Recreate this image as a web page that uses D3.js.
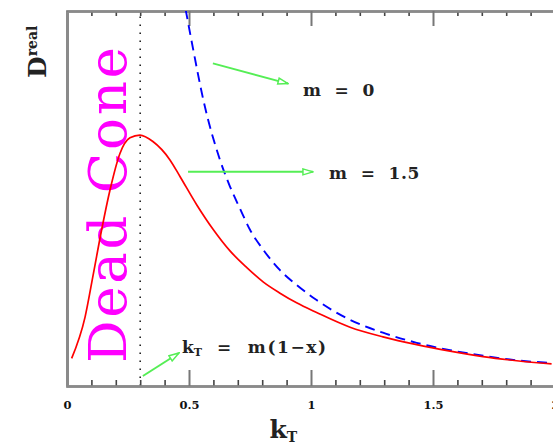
<!DOCTYPE html>
<html><head><meta charset="utf-8">
<script src="https://cdn.jsdelivr.net/npm/d3@7"></script>
<style>html,body{margin:0;padding:0;background:#fff;overflow:hidden}</style>
</head><body>
<svg id="c" width="553" height="445"></svg>
<script>
// Data
const kRed = [0.019,0.074,0.108,0.142,0.176,0.217,0.258,0.299,0.352,0.422,0.463,0.532,0.600,0.668,0.736,0.805,0.873,0.941,1.023,1.16,1.295,1.433,1.57,1.705,1.843,1.986];
const dRed = [0.30,0.75,1.22,1.70,2.13,2.53,2.70,2.73,2.66,2.46,2.28,1.97,1.70,1.47,1.29,1.13,1.01,0.905,0.80,0.64,0.535,0.45,0.38,0.32,0.275,0.24];
const kBlue = [0.486,0.518,0.559,0.627,0.668,0.709,0.75,0.805,0.873,0.941,1.023,1.16,1.295,1.433,1.57,1.705,1.843,1.986];
const dBlue = [4.10,3.65,3.11,2.46,2.17,1.93,1.70,1.48,1.26,1.10,0.935,0.72,0.58,0.47,0.39,0.33,0.28,0.25];
const majorTicks = [0,0.5,1,1.5,2];
const majorLabels = ["0","0.5","1","1.5","2"];
const minorTicks = d3.range(0,21).map(i=>i/10).filter(v=>Math.abs(v*2-Math.round(v*2))>1e-6);
const deadConeK = 0.3;

const svg = d3.select("#c");
const x = d3.scaleLinear().domain([0,2]).range([67,555]);
const y = d3.scaleLinear().domain([0,4.08]).range([386,11]);
const serif = "'DejaVu Serif', serif";

svg.append("defs").append("clipPath").attr("id","clip")
  .append("rect").attr("x",67).attr("y",11).attr("width",500).attr("height",375);

// Dead Cone text
svg.append("text")
  .attr("transform",`translate(126,${y(0)-23}) rotate(-90)`)
  .attr("font-family",serif).attr("font-size",53).attr("fill","#ff00ff")
  .attr("textLength",316).attr("lengthAdjust","spacing")
  .text("Dead Cone");

// dotted line
svg.append("line").attr("x1",x(deadConeK)).attr("x2",x(deadConeK))
  .attr("y1",y(4.02)).attr("y2",y(0))
  .attr("stroke","#222").attr("stroke-width",1.6).attr("stroke-dasharray","1.6,6.4");

// axes
const gMinB = svg.append("g").attr("transform",`translate(0,${y(0)})`)
  .call(d3.axisBottom(x).tickValues(minorTicks).tickSize(-6).tickFormat(""));
const gMajB = svg.append("g").attr("transform",`translate(0,${y(0)})`)
  .call(d3.axisBottom(x).tickValues(majorTicks).tickSize(-16).tickPadding(13).tickFormat((d,i)=>majorLabels[i]));
const gMinT = svg.append("g").attr("transform",`translate(0,${y(4.08)})`)
  .call(d3.axisTop(x).tickValues(minorTicks).tickSize(-5).tickFormat(""));
const gMajT = svg.append("g").attr("transform",`translate(0,${y(4.08)})`)
  .call(d3.axisTop(x).tickValues(majorTicks).tickSize(-15).tickFormat(""));
[gMinB,gMajB,gMinT,gMajT].forEach(g=>{
  g.select(".domain").attr("stroke","#8a8a8a").attr("stroke-width",2.4);
  g.selectAll(".tick line").attr("stroke","#444").attr("stroke-width",1.6);
});
gMajB.selectAll(".tick line").attr("stroke","#777").attr("stroke-width",2);
gMajT.selectAll(".tick line").attr("stroke","#777").attr("stroke-width",2);
gMajB.selectAll(".tick text").attr("font-family",serif).attr("font-weight","bold")
  .attr("font-size",11.5).attr("fill","#111").attr("dy","0.9em");
const gL = svg.append("g").attr("transform",`translate(${x(0)},0)`)
  .call(d3.axisLeft(y).tickValues([]).tickSize(0));
gL.select(".domain").attr("stroke","#8a8a8a").attr("stroke-width",3);

// curves
const line = d3.line().x(d=>x(d[0])).y(d=>y(d[1])).curve(d3.curveMonotoneX);
const plot = svg.append("g").attr("clip-path","url(#clip)");
plot.append("path").datum(kBlue.map((k,i)=>[k,dBlue[i]]))
  .attr("d",line).attr("fill","none").attr("stroke","#0000ff").attr("stroke-width",1.9)
  .attr("stroke-dasharray","10,6");
plot.append("path").datum(kRed.map((k,i)=>[k,dRed[i]]))
  .attr("d",line).attr("fill","none").attr("stroke","#ff0000").attr("stroke-width",1.7);

// arrows
const green = "#55ee55";
svg.append("defs").append("marker").attr("id","ah").attr("viewBox","0 0 12 8")
  .attr("refX",11).attr("refY",4).attr("markerWidth",12).attr("markerHeight",8)
  .attr("markerUnits","userSpaceOnUse").attr("orient","auto")
  .append("path").attr("d","M1,1 L11,4 L1,7 Z").attr("fill","#fff").attr("stroke",green).attr("stroke-width",1.5);
const arrows = [
  {k0:0.598,d0:3.51,k1:0.906,d1:3.29},
  {k0:0.496,d0:2.33,k1:1.008,d1:2.33},
  {k0:0.311,d0:0.109,k1:0.459,d1:0.359}
];
svg.selectAll("line.arrow").data(arrows).join("line").attr("class","arrow")
  .attr("x1",d=>x(d.k0)).attr("y1",d=>y(d.d0)).attr("x2",d=>x(d.k1)).attr("y2",d=>y(d.d1))
  .attr("stroke",green).attr("stroke-width",2).attr("marker-end","url(#ah)");

// labels
const lab = (k,d)=>svg.append("text").attr("x",x(k)).attr("y",y(d))
  .attr("font-family",serif).attr("font-weight","bold").attr("font-size",17)
  .attr("fill","#222").style("white-space","pre");
lab(0.967,3.16).attr("letter-spacing",0.6).text("m  =  0");
lab(1.074,2.25).attr("letter-spacing",0.6).text("m  =  1.5");
const t3 = lab(0.471,0.36);
t3.append("tspan").text("k");
t3.append("tspan").attr("font-size",11).attr("dy",3).text("T");
t3.append("tspan").attr("dy",-3).attr("letter-spacing",1.6).text("  =  m(1\u2212x)");

// axis titles
const xt = svg.append("text").attr("x",x(0.83)).attr("y",438)
  .attr("font-family",serif).attr("font-weight","bold").attr("font-size",25).attr("fill","#222");
xt.append("tspan").text("k");
xt.append("tspan").attr("font-size",14).attr("dy",4).text("T");
const yt = svg.append("text").attr("transform","translate(46,78) rotate(-90)")
  .attr("font-family",serif).attr("font-weight","bold").attr("font-size",25).attr("fill","#222");
yt.append("tspan").text("D");
yt.append("tspan").attr("font-size",14).attr("dy",-9).text("real");
</script>
</body></html>
